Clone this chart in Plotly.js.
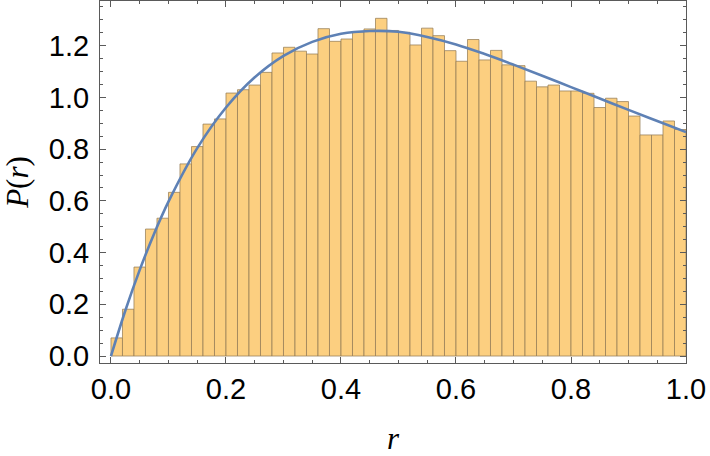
<!DOCTYPE html>
<html>
<head>
<meta charset="utf-8">
<script src="https://cdn.plot.ly/plotly-3.0.1.min.js"></script>
<style>body{margin:0;padding:0;background:#fff;}#chart{width:710px;height:456px;}</style>
</head>
<body>
<div id="chart"></div>
<script>
// Histogram: 50 bins of width 0.02 on [0, 1]
const binStart = 0;
const binWidth = 0.02;
const binHeights = [
  0.070, 0.181, 0.344, 0.491, 0.533, 0.633, 0.743, 0.810, 0.897, 0.917,
  1.017, 1.030, 1.048, 1.097, 1.172, 1.194, 1.179, 1.168, 1.266, 1.217,
  1.226, 1.253, 1.265, 1.306, 1.259, 1.252, 1.203, 1.268, 1.239, 1.181,
  1.140, 1.224, 1.145, 1.182, 1.126, 1.123, 1.063, 1.041, 1.048, 1.025,
  1.025, 1.016, 0.961, 0.997, 0.984, 0.928, 0.855, 0.855, 0.909, 0.876
];
// Fitted density curve
const curveR = [0, 0.025, 0.05, 0.075, 0.1, 0.15, 0.2, 0.25, 0.3, 0.35, 0.4, 0.45,
  0.5, 0.55, 0.6, 0.65, 0.7, 0.75, 0.8, 0.85, 0.9, 0.95, 1.0];
const curveP = [0, 0.176, 0.333, 0.473, 0.597, 0.804, 0.961, 1.078, 1.161, 1.215, 1.246, 1.257,
  1.254, 1.234, 1.205, 1.168, 1.127, 1.084, 1.040, 0.996, 0.952, 0.909, 0.866];
const xTitle = '<i>r</i>';
const yTitle = '<i>P</i>(<i>r</i>)';

const binCenters = binHeights.map((_, i) => binStart + binWidth * (i + 0.5));

const frameColor = '#5a5a5a';
const tickFont = {family: 'Liberation Sans, Arial, sans-serif', size: 29, color: '#000'};
const titleFont = {family: 'Liberation Serif, Times New Roman, serif', size: 31, color: '#000'};

const traces = [
  {
    type: 'bar',
    x: binCenters,
    y: binHeights,
    width: binWidth,
    marker: {color: 'rgb(252,207,128)', line: {color: 'rgba(150,125,85,0.75)', width: 1}},
    hoverinfo: 'x+y'
  },
  {
    type: 'scatter',
    mode: 'lines',
    x: curveR,
    y: curveP,
    line: {color: 'rgb(94,129,181)', width: 2.6, shape: 'spline', smoothing: 1},
    hoverinfo: 'x+y'
  }
];

const layout = {
  width: 710,
  height: 456,
  margin: {l: 100, r: 24, t: 1, b: 93, pad: 0},
  paper_bgcolor: '#fff',
  plot_bgcolor: '#fff',
  showlegend: false,
  bargap: 0,
  xaxis: {
    range: [-0.0191, 1.0],
    showgrid: false,
    zeroline: false,
    showline: true,
    linecolor: frameColor,
    linewidth: 1,
    mirror: 'ticks',
    ticks: 'inside',
    ticklen: 6,
    tickcolor: frameColor,
    tick0: 0,
    dtick: 0.2,
    tickformat: '.1f',
    tickfont: tickFont,
    ticklabelstandoff: 0,
    minor: {ticks: 'inside', ticklen: 3, tick0: 0, dtick: 0.05, tickcolor: frameColor, showgrid: false},
    title: {text: xTitle, font: titleFont, standoff: 24}
  },
  yaxis: {
    range: [-0.027, 1.373],
    showgrid: false,
    zeroline: false,
    showline: true,
    linecolor: frameColor,
    linewidth: 1,
    mirror: 'ticks',
    ticks: 'inside',
    ticklen: 6,
    tickcolor: frameColor,
    tick0: 0,
    dtick: 0.2,
    tickformat: '.1f',
    tickfont: tickFont,
    ticklabelstandoff: 4,
    minor: {ticks: 'inside', ticklen: 3, tick0: 0, dtick: 0.05, tickcolor: frameColor, showgrid: false},
    title: {text: yTitle, font: titleFont, standoff: 12}
  }
};

Plotly.newPlot('chart', traces, layout, {staticPlot: true, displayModeBar: false});
</script>
</body>
</html>
